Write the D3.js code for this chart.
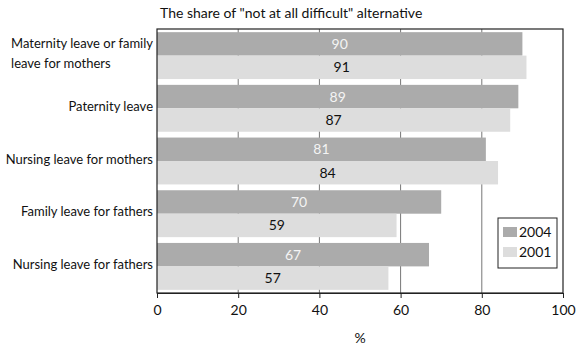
<!DOCTYPE html>
<html>
<head>
<meta charset="utf-8">
<script src="https://cdn.jsdelivr.net/npm/d3@7"></script>
<style>
  body { margin: 0; background: #fff; }
  svg { display: block; font-family: Lato, "Open Sans", sans-serif; }
</style>
</head>
<body>
<svg id="chart" width="576" height="346"></svg>
<script>
const categories = [
  ["Maternity leave or family", "leave for mothers"],
  ["Paternity leave"],
  ["Nursing leave for mothers"],
  ["Family leave for fathers"],
  ["Nursing leave for fathers"]
];
const series = ["2004", "2001"];
const values2004 = [90, 89, 81, 70, 67];
const values2001 = [91, 87, 84, 59, 57];
const xTicks = [0, 20, 40, 60, 80, 100];
const title = 'The share of "not at all difficult" alternative';
const xLabel = "%";

const colors = { "2004": "#ababab", "2001": "#dddddd" };
const labelColors = { "2004": "#f4f4f4", "2001": "#111" };
const FS = 14;

const svg = d3.select("#chart");
const m = { left: 157, right: 13, top: 29, bottom: 53 };
const W = 576, H = 346;
const x = d3.scaleLinear().domain([0, 100]).range([m.left, W - m.right]);
const keys = categories.map((c, i) => "c" + i);
const y = d3.scaleBand().domain(keys).range([m.top, H - m.bottom]).paddingInner(0.11).paddingOuter(0.06);
const ys = d3.scaleBand().domain(series).range([0, y.bandwidth()]).padding(0);

// gridlines
svg.append("g").selectAll("line").data(xTicks.slice(1, -1)).join("line")
  .attr("x1", d => x(d)).attr("x2", d => x(d))
  .attr("y1", m.top).attr("y2", H - m.bottom)
  .attr("stroke", "#777").attr("stroke-width", 1);

const data = [];
keys.forEach((k, i) => {
  data.push({ k, s: "2004", v: values2004[i] });
  data.push({ k, s: "2001", v: values2001[i] });
});

svg.append("g").selectAll("rect").data(data).join("rect")
  .attr("x", x(0))
  .attr("y", d => y(d.k) + ys(d.s))
  .attr("width", d => x(d.v) - x(0))
  .attr("height", ys.bandwidth())
  .attr("fill", d => colors[d.s]);

svg.append("g").selectAll("text").data(data).join("text")
  .attr("x", d => (x(0) + x(d.v)) / 2)
  .attr("y", d => y(d.k) + ys(d.s) + ys.bandwidth() / 2)
  .attr("dy", "0.36em")
  .attr("text-anchor", "middle")
  .attr("font-size", FS)
  .attr("fill", d => labelColors[d.s])
  .text(d => d.v);

// frame
svg.append("rect")
  .attr("x", m.left).attr("y", m.top)
  .attr("width", W - m.right - m.left).attr("height", H - m.bottom - m.top)
  .attr("fill", "none").attr("stroke", "#222").attr("stroke-width", 1.2);

// x axis
const xAxis = svg.append("g")
  .attr("transform", `translate(0,${H - m.bottom})`)
  .call(d3.axisBottom(x).tickValues(xTicks).tickSize(5).tickPadding(7));
xAxis.select(".domain").attr("stroke", "#222");
xAxis.selectAll(".tick line").attr("stroke", "#222");
xAxis.selectAll("text").attr("font-size", FS).attr("fill", "#111").attr("font-family", "Lato");

// y labels: right edge of block at m.left-4, lines left-aligned within block
const yl = svg.append("g");
categories.forEach((lines, i) => {
  const cy = y(keys[i]) + y.bandwidth() / 2 - 2;
  const t = yl.append("text")
    .attr("font-size", 13)
    .attr("fill", "#111");
  const n = lines.length;
  const spans = lines.map((ln, j) => t.append("tspan")
      .attr("y", cy + (j - (n - 1) / 2) * 20)
      .attr("dy", "0.36em").text(ln));
  const widths = spans.map(s => s.node().getComputedTextLength());
  const maxW = d3.max(widths);
  spans.forEach(s => s.attr("x", m.left - 4 - maxW));
});

// title
svg.append("text").attr("x", 160).attr("y", 13).attr("dy", "0.36em")
  .attr("font-size", FS).attr("fill", "#111").text(title);

// x label
svg.append("text").attr("x", x(50)).attr("y", 338).attr("dy", "0.36em")
  .attr("text-anchor", "middle").attr("font-size", FS).attr("fill", "#111").text(xLabel);

// legend
const lg = svg.append("g").attr("transform", "translate(498,218)");
lg.append("rect").attr("width", 59).attr("height", 50).attr("fill", "#fff").attr("stroke", "#222").attr("stroke-width", 1);
series.forEach((s, i) => {
  lg.append("rect").attr("x", 5).attr("y", 9 + i * 20).attr("width", 14).attr("height", 10).attr("fill", colors[s]);
  lg.append("text").attr("x", 21).attr("y", 14 + i * 20).attr("dy", "0.36em")
    .attr("font-size", FS).attr("fill", "#111").text(s);
});
</script>
</body>
</html>
